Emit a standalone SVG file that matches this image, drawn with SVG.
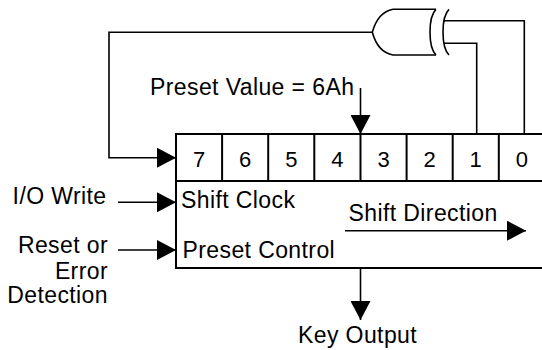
<svg xmlns="http://www.w3.org/2000/svg" width="542" height="350" viewBox="0 0 542 350">
<style>
  .t { font-family: "Liberation Sans", Arial, sans-serif; font-size: 23px; letter-spacing: 0.4px; fill: #000; }
  .d { font-family: "Liberation Sans", Arial, sans-serif; font-size: 22px; fill: #000; text-anchor: middle; }
  .w { fill: none; stroke: #000; stroke-width: 1.6; }
  .b { fill: #fff; stroke: #000; stroke-width: 2; }
</style>
<defs>
  <marker id="ah" markerUnits="userSpaceOnUse" markerWidth="19" markerHeight="20" refX="19" refY="10" orient="auto">
    <path d="M0,0 L19,10 L0,20 z" fill="#000"/>
  </marker>
</defs>
<rect width="542" height="350" fill="#fff"/>

<g id="register">
  <rect class="b" x="176" y="134" width="380" height="134"/>
  <line class="b" x1="176" y1="181" x2="556" y2="181"/>
  <line class="b" x1="222.1" y1="134" x2="222.1" y2="181"/>
  <line class="b" x1="268.2" y1="134" x2="268.2" y2="181"/>
  <line class="b" x1="314.3" y1="134" x2="314.3" y2="181"/>
  <line class="b" x1="360.5" y1="134" x2="360.5" y2="181"/>
  <line class="b" x1="406.6" y1="134" x2="406.6" y2="181"/>
  <line class="b" x1="452.7" y1="134" x2="452.7" y2="181"/>
  <line class="b" x1="498.8" y1="134" x2="498.8" y2="181"/>
  <text class="d" x="199" y="166.7">7</text>
  <text class="d" x="245.2" y="166.7">6</text>
  <text class="d" x="291.3" y="166.7">5</text>
  <text class="d" x="337.4" y="166.7">4</text>
  <text class="d" x="383.5" y="166.7">3</text>
  <text class="d" x="429.6" y="166.7">2</text>
  <text class="d" x="475.7" y="166.7">1</text>
  <text class="d" x="521.8" y="166.7">0</text>
  <text class="t" x="181" y="207.5">Shift Clock</text>
  <text class="t" x="182.5" y="257.5">Preset Control</text>
  <text class="t" x="348.5" y="220.7">Shift Direction</text>
</g>

<g id="xor-gate">
  <path class="w" d="M436,9.3 L393,9.3 Q378,12 372.3,32.3 Q378,52.6 393,55 L436,55"/>
  <path class="w" d="M436,9.3 C428,17 428,47 436,55"/>
  <path class="w" d="M449,9.3 C441,17 441,47 449,55"/>
</g>

<g id="labels">
  <text class="t" x="150" y="95">Preset Value = 6Ah</text>
  <text class="t" x="106.5" y="204.3" text-anchor="end">I/O Write</text>
  <text class="t" x="108" y="253.3" text-anchor="end">Reset or</text>
  <text class="t" x="108" y="279.3" text-anchor="end">Error</text>
  <text class="t" x="108" y="303" text-anchor="end">Detection</text>
  <text class="t" x="298" y="343.3">Key Output</text>
</g>

<g id="connectors">
  <polyline class="w" points="372.3,32.3 109,32.3 109,157.7 176,157.7" marker-end="url(#ah)"/>
  <polyline class="w" points="443.5,20.7 524.3,20.7 524.3,134"/>
  <polyline class="w" points="443.5,43.3 476.7,43.3 476.7,134"/>
  <line class="w" x1="360.5" y1="88" x2="360.5" y2="134" marker-end="url(#ah)"/>
  <line class="w" x1="118" y1="202.3" x2="176" y2="202.3" marker-end="url(#ah)"/>
  <line class="w" x1="118" y1="250" x2="176" y2="250" marker-end="url(#ah)"/>
  <line class="w" x1="345" y1="230.7" x2="526" y2="230.7" marker-end="url(#ah)"/>
  <line class="w" x1="360.5" y1="268" x2="360.5" y2="320" marker-end="url(#ah)"/>
</g>
</svg>
